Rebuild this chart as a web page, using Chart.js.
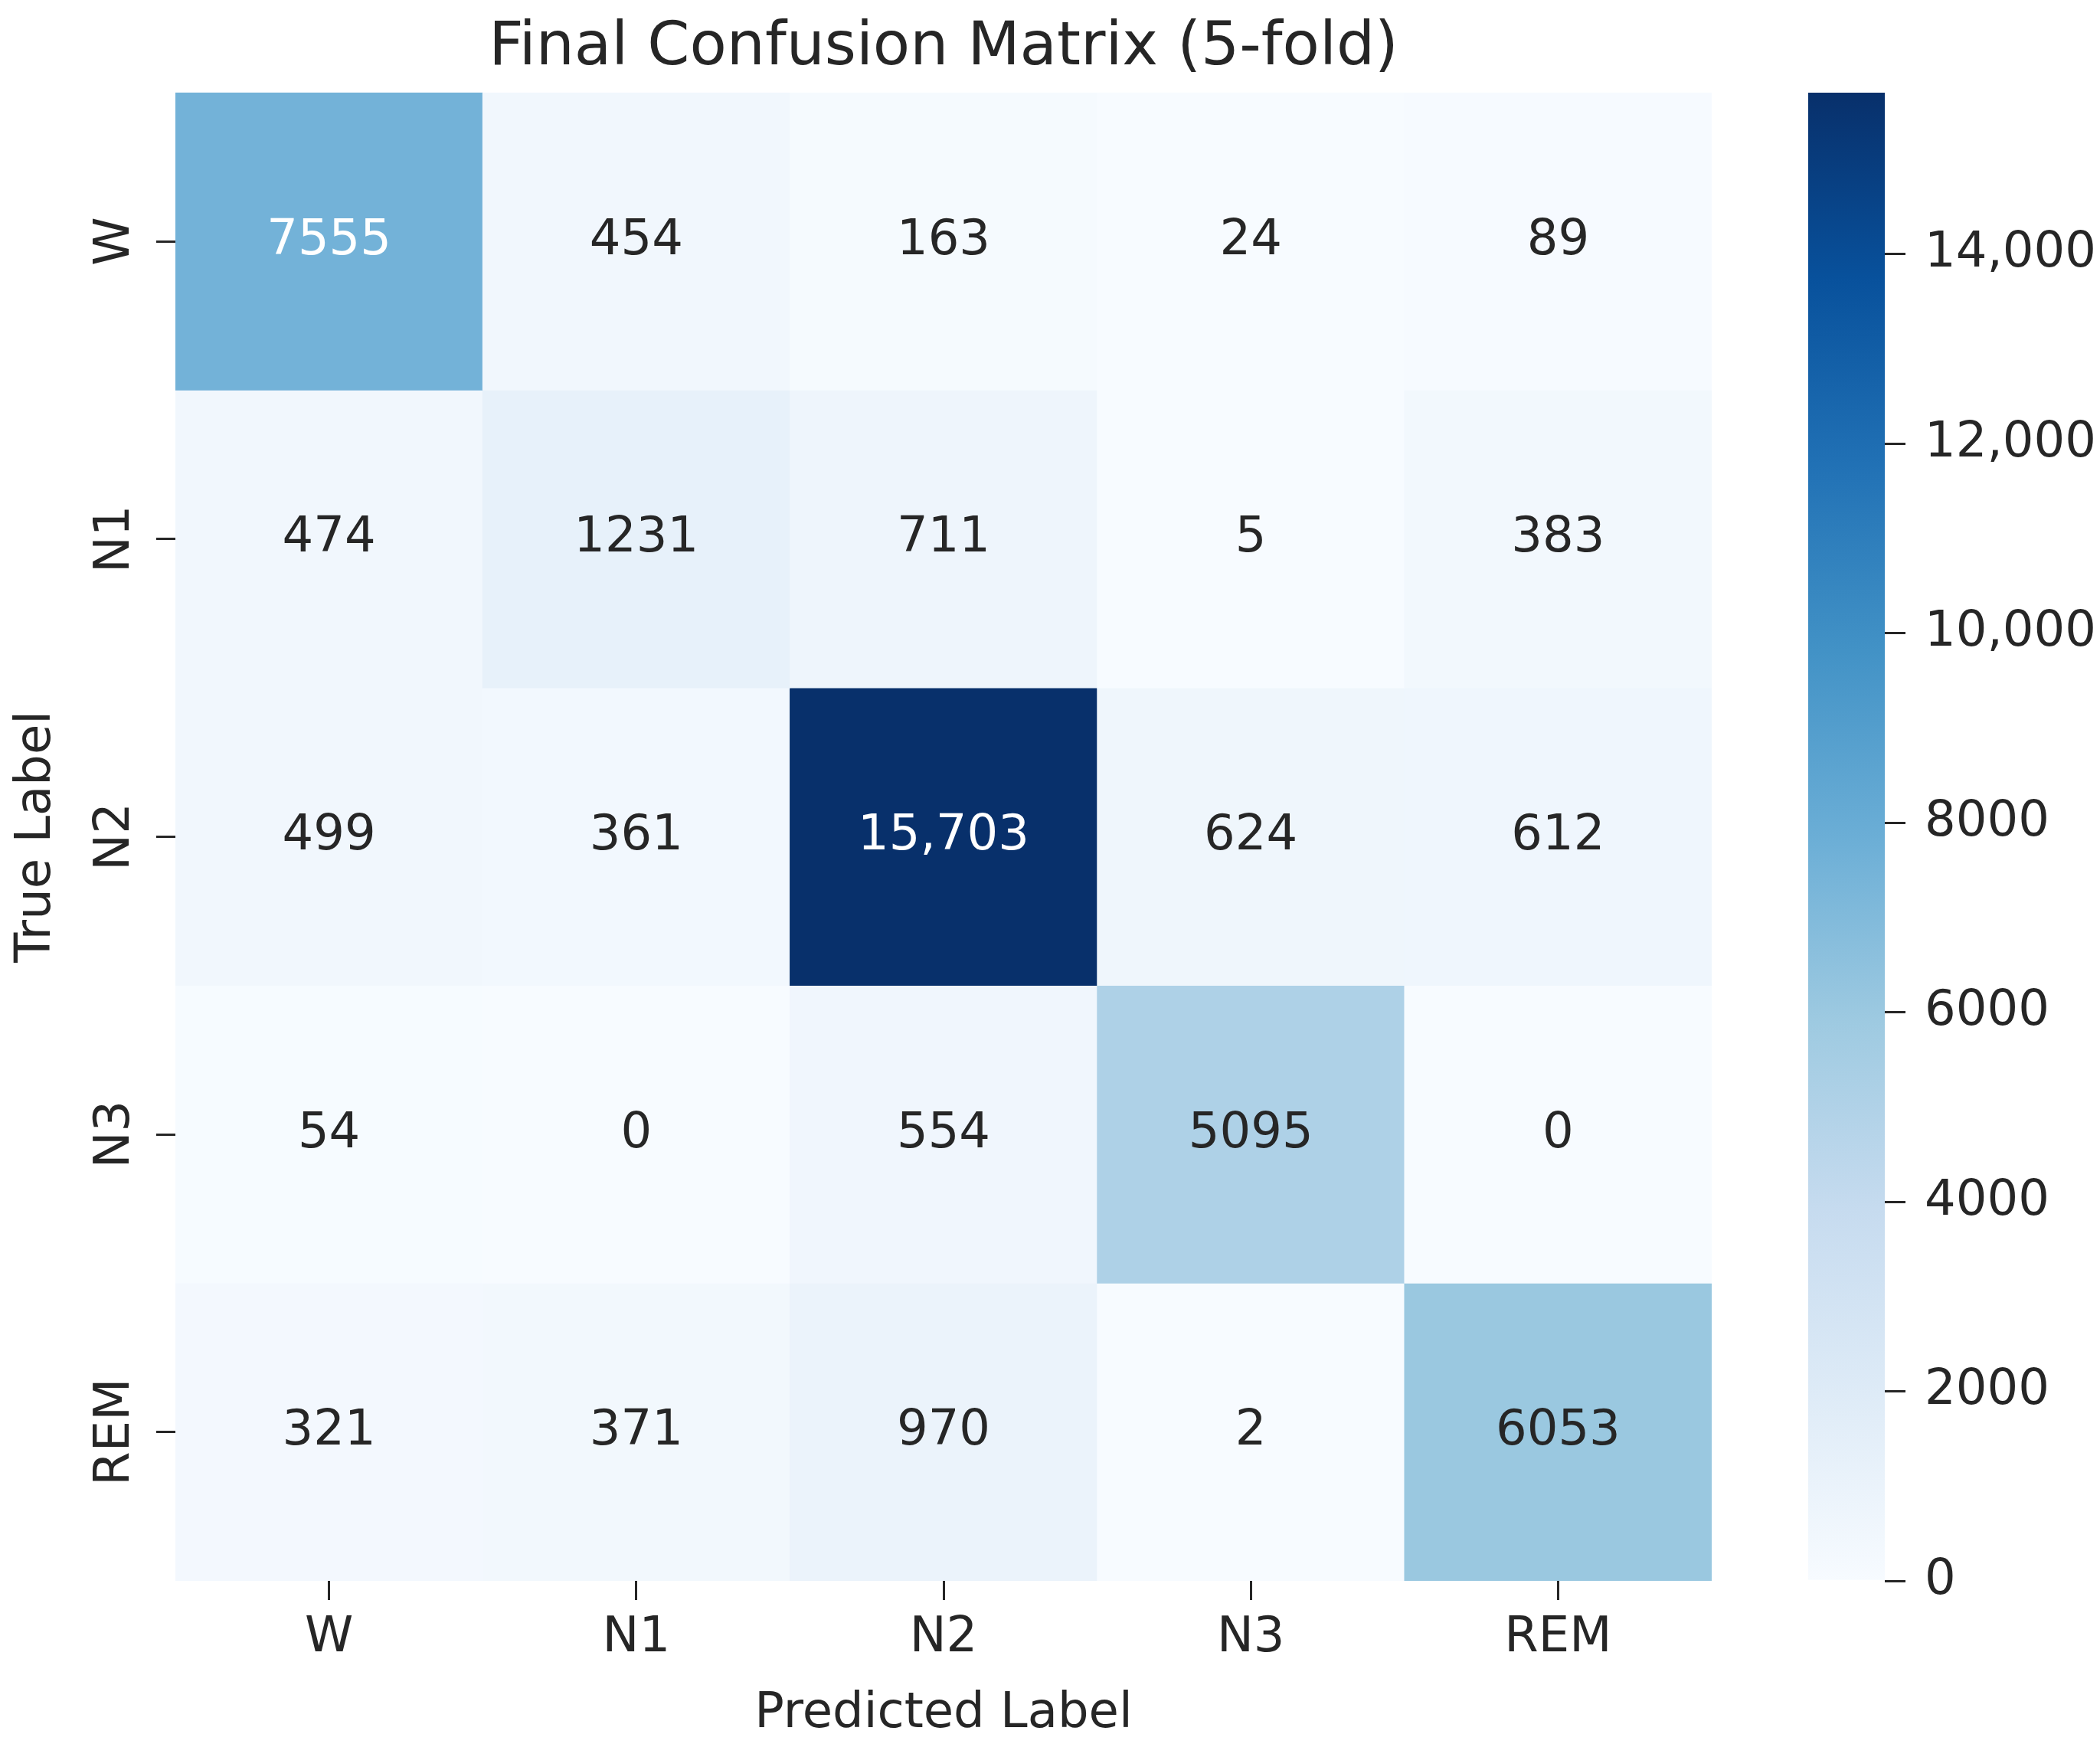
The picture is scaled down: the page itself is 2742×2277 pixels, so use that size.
<!DOCTYPE html>
<html>
<head>
<meta charset="utf-8">
<title>Final Confusion Matrix (5-fold)</title>
<script src="https://cdn.jsdelivr.net/npm/chart.js@4.4.1/dist/chart.umd.min.js"></script>
<style>
  html, body { margin: 0; padding: 0; background: #fff; }
  #wrap { position: relative; width: 2742px; height: 2277px; }
  #matrix { position: absolute; left: 0; top: 0; }
  #colorbar { position: absolute; left: 2361px; top: 0; }
</style>
</head>
<body>
<div id="wrap">
  <canvas id="matrix" width="2742" height="2277"></canvas>
  <canvas id="colorbar" width="381" height="2277"></canvas>
</div>
<script>
// sleep stages (true label rows / predicted label columns)
const stages = ['W', 'N1', 'N2', 'N3', 'REM'];
const rowW = [7555, 454, 163, 24, 89];
const rowN1 = [474, 1231, 711, 5, 383];
const rowN2 = [499, 361, 15703, 624, 612];
const rowN3 = [54, 0, 554, 5095, 0];
const rowREM = [321, 371, 970, 2, 6053];
const colorbarTicks = [0, 2000, 4000, 6000, 8000, 10000, 12000, 14000];

const matrix = [rowW, rowN1, rowN2, rowN3, rowREM];
const vmax = Math.max(...matrix.flat());

Chart.defaults.font.family = '"DejaVu Sans", sans-serif';
const ink = '#262626';

// matplotlib "Blues"
const bluesHex = ['#f7fbff', '#deebf7', '#c6dbef', '#9ecae1', '#6baed6', '#4292c6', '#2171b5', '#08519c', '#08306b'];
const bluesRgb = bluesHex.map(h => [1, 3, 5].map(i => parseInt(h.slice(i, i + 2), 16)));

function blues(t) {
  t = Math.min(1, Math.max(0, t));
  const pos = t * (bluesRgb.length - 1);
  const i = Math.min(Math.floor(pos), bluesRgb.length - 2);
  const f = pos - i;
  return bluesRgb[i].map((c, k) => Math.round(c + (bluesRgb[i + 1][k] - c) * f));
}

const rgbStr = c => `rgb(${c[0]},${c[1]},${c[2]})`;

// same rule seaborn uses to pick annotation colour
function textColor(rgb) {
  const lin = rgb.map(c => {
    c /= 255;
    return c <= 0.03928 ? c / 12.92 : Math.pow((c + 0.055) / 1.055, 2.4);
  });
  const l = 0.2126 * lin[0] + 0.7152 * lin[1] + 0.0722 * lin[2];
  return l > 0.408 ? ink : '#ffffff';
}

const fmt = v => v >= 10000 ? v.toLocaleString('en-US') : String(v);

const cellLabels = {
  id: 'cellLabels',
  afterDatasetsDraw(chart) {
    const { ctx, scales: { x, y } } = chart;
    ctx.save();
    ctx.font = '64px "DejaVu Sans"';
    ctx.textAlign = 'center';
    ctx.textBaseline = 'middle';
    matrix.forEach((row, i) => row.forEach((v, j) => {
      ctx.fillStyle = textColor(blues(v / vmax));
      ctx.fillText(fmt(v), x.getPixelForValue(j), y.getPixelForValue(i + 0.5));
    }));
    ctx.restore();
  }
};

new Chart(document.getElementById('matrix'), {
  type: 'bar',
  data: {
    labels: stages,
    datasets: matrix.map((row, i) => ({
      label: stages[i],
      data: row.map(() => [i, i + 1]),
      backgroundColor: row.map(v => rgbStr(blues(v / vmax))),
      grouped: false,
      barPercentage: 1,
      categoryPercentage: 1,
      borderWidth: 0
    }))
  },
  options: {
    responsive: false,
    animation: false,
    layout: { padding: { left: 0, right: 507, top: 0, bottom: 0 } },
    plugins: {
      legend: { display: false },
      tooltip: { enabled: false },
      title: {
        display: true,
        fullSize: false,
        text: 'Final Confusion Matrix (5-fold)',
        color: ink,
        font: { size: 79, weight: 'normal' },
        padding: { top: 16, bottom: 10 }
      }
    },
    scales: {
      x: {
        grid: { offset: false, drawOnChartArea: false, tickLength: 25, lineWidth: 3, color: ink },
        border: { display: false },
        ticks: { color: ink, font: { size: 64 }, padding: 12, maxRotation: 0 },
        title: { display: true, text: 'Predicted Label', color: ink, font: { size: 64 }, padding: { top: 0, bottom: 0 } },
        afterFit: s => { s.height = 213; }
      },
      y: {
        min: 0,
        max: 5,
        reverse: true,
        afterBuildTicks: s => { s.ticks = stages.map((_, i) => ({ value: i + 0.5 })); },
        grid: { drawOnChartArea: false, tickLength: 25, lineWidth: 3, color: ink },
        border: { display: false },
        ticks: {
          color: ink,
          font: { size: 64 },
          minRotation: 90,
          maxRotation: 90,
          crossAlign: 'center',
          padding: -17,
          autoSkip: false,
          callback: (v, i) => stages[i]
        },
        title: { display: true, text: 'True Label', color: ink, font: { size: 64 }, padding: { top: 10, bottom: 0 } },
        afterFit: s => { s.width = 229; }
      }
    }
  },
  plugins: [cellLabels]
});

new Chart(document.getElementById('colorbar'), {
  type: 'bar',
  data: {
    labels: ['count'],
    datasets: [{
      data: [[0, vmax]],
      backgroundColor: c => {
        const { ctx, chartArea } = c.chart;
        if (!chartArea) return bluesHex[bluesHex.length - 1];
        const g = ctx.createLinearGradient(0, chartArea.bottom, 0, chartArea.top);
        bluesHex.forEach((h, k) => g.addColorStop(k / (bluesHex.length - 1), h));
        return g;
      },
      barPercentage: 1,
      categoryPercentage: 1,
      borderWidth: 0
    }]
  },
  options: {
    responsive: false,
    animation: false,
    layout: { padding: { top: 121, bottom: 213, left: 0, right: 0 } },
    plugins: { legend: { display: false }, tooltip: { enabled: false } },
    scales: {
      x: { display: false },
      y: {
        position: 'right',
        min: 0,
        max: vmax,
        afterBuildTicks: s => { s.ticks = colorbarTicks.map(v => ({ value: v })); },
        grid: { drawOnChartArea: false, tickLength: 27, lineWidth: 3, color: ink },
        border: { display: false },
        ticks: { color: ink, font: { size: 64 }, padding: 25, callback: v => fmt(v) },
        afterFit: s => { s.width = 281; }
      }
    }
  }
});
</script>
</body>
</html>
